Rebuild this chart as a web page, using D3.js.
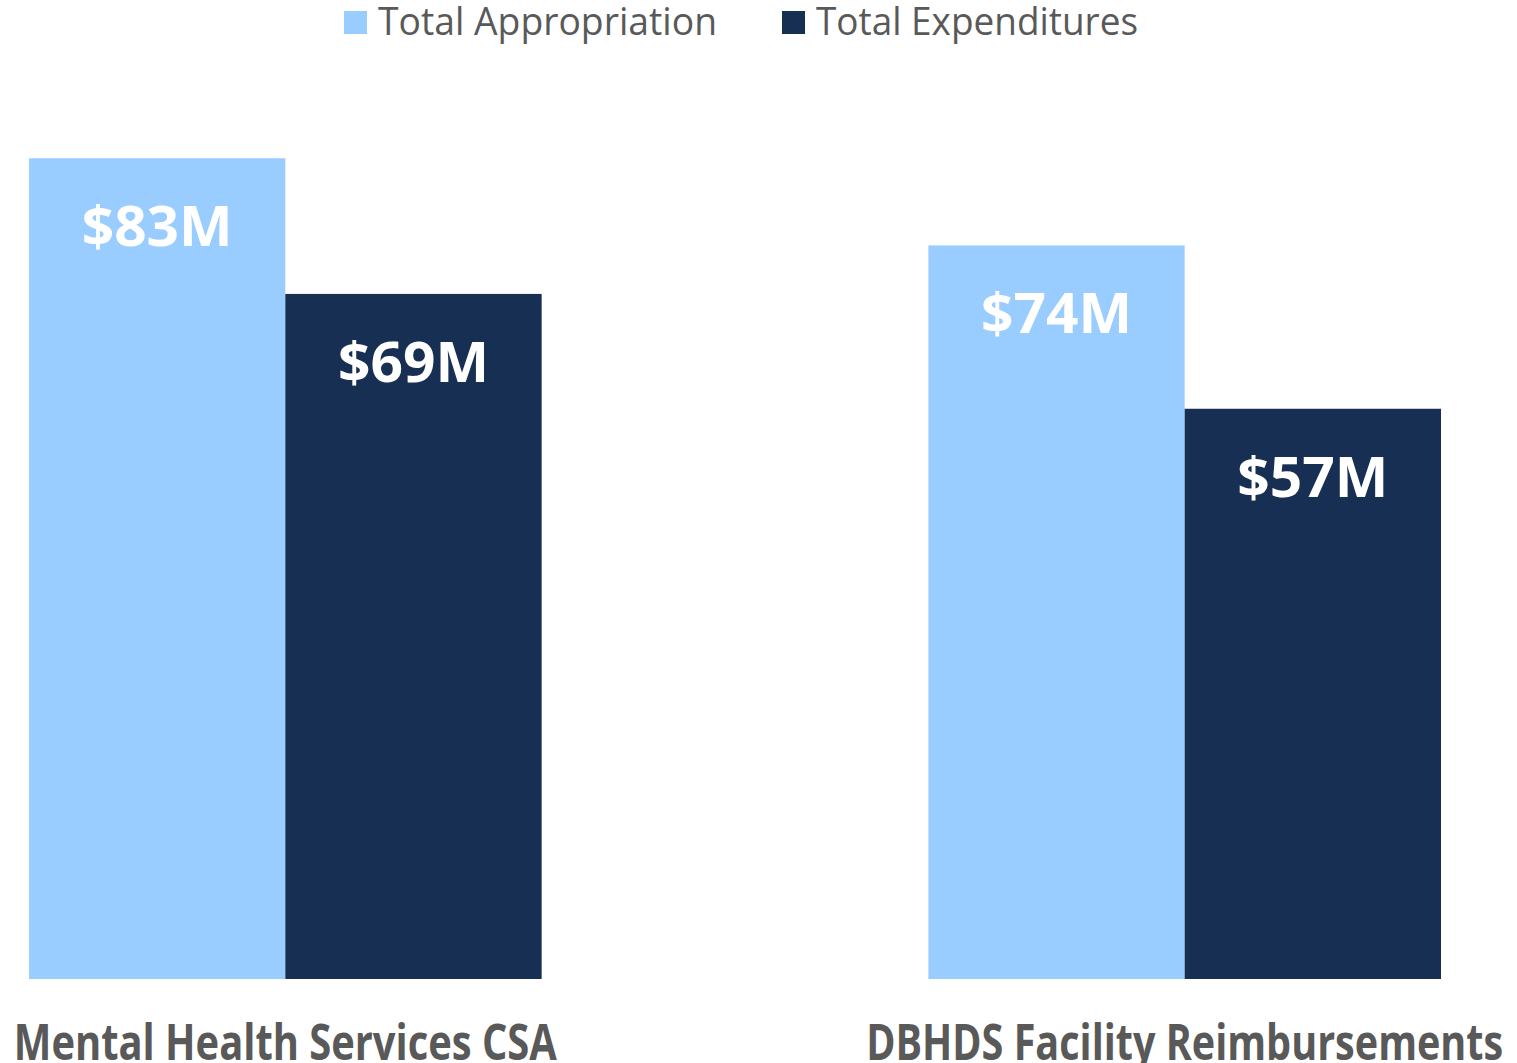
<!DOCTYPE html>
<head>
  <meta charset="UTF-8" />
  <title>Appropriation vs Expenditures</title>
  <style>
    body { margin: 0; background: #fff; }
    svg { display: block; }
  </style>
</head>
<body>
  <svg width="1517" height="1063"></svg>
</body>
<script src="https://cdn.jsdelivr.net/npm/d3@7"></script>
<script>
  // data
  const categories = ["Mental Health Services CSA", "DBHDS Facility Reimbursements"];
  const seriesNames = ["Total Appropriation", "Total Expenditures"];
  const appropriation = [82.9, 74.1];
  const expenditures = [69.2, 57.6];
  const valueLabels = [["$83M", "$69M"], ["$74M", "$57M"]];
  const colors = ["#99CCFF", "#172F53"];

  const svg = d3.select("svg");
  const font = "'Open Sans', 'DejaVu Sans', sans-serif";

  const x = d3.scaleBand().domain(categories).range([29, 1441]).paddingInner(0.43).paddingOuter(0);
  const xs = d3.scaleBand().domain(seriesNames).range([0, x.bandwidth()]);
  const y = d3.scaleLinear().domain([0, 100]).range([979, -11]);

  const rows = categories.map((c, i) => ({
    cat: c,
    vals: [appropriation[i], expenditures[i]],
    labels: valueLabels[i]
  }));

  const g = svg.selectAll("g.grp").data(rows).join("g")
    .attr("class", "grp")
    .attr("transform", d => `translate(${x(d.cat)},0)`);

  g.selectAll("rect").data(d => d.vals.map((v, j) => ({ v, s: seriesNames[j], j }))).join("rect")
    .attr("x", d => xs(d.s))
    .attr("y", d => y(d.v))
    .attr("width", xs.bandwidth())
    .attr("height", d => y(0) - y(d.v))
    .attr("fill", d => colors[d.j]);

  // value labels inside bars
  g.selectAll("text.val").data(d => d.vals.map((v, j) => ({ v, s: seriesNames[j], l: d.labels[j] }))).join("text")
    .attr("class", "val")
    .attr("x", d => xs(d.s) + xs.bandwidth() / 2)
    .attr("y", d => y(d.v) + 88)
    .attr("text-anchor", "middle")
    .attr("font-family", font)
    .attr("font-weight", "bold")
    .attr("font-size", 55)
    .attr("fill", "#fff")
    .attr("textLength", 151)
    .attr("lengthAdjust", "spacingAndGlyphs")
    .text(d => d.l);

  // category labels (run off the bottom edge as in the original)
  const catWidths = [543, 637];
  svg.selectAll("text.cat").data(categories).join("text")
    .attr("class", "cat")
    .attr("x", d => x(d) + x.bandwidth() / 2)
    .attr("y", 1060)
    .attr("text-anchor", "middle")
    .attr("font-family", font)
    .attr("font-weight", "bold")
    .attr("font-size", 50)
    .attr("fill", "#595959")
    .attr("textLength", (d, i) => catWidths[i])
    .attr("lengthAdjust", "spacingAndGlyphs")
    .text(d => d);

  // legend
  const legendX = [344, 782];
  const legendW = [339, 322];
  const lg = svg.selectAll("g.leg").data(seriesNames).join("g")
    .attr("class", "leg")
    .attr("transform", (d, i) => `translate(${legendX[i]},0)`);
  lg.append("rect")
    .attr("x", 0).attr("y", 11)
    .attr("width", 23).attr("height", 23)
    .attr("fill", (d, i) => colors[i]);
  lg.append("text")
    .attr("x", 34).attr("y", 35)
    .attr("font-family", font)
    .attr("font-size", 38)
    .attr("fill", "#595959")
    .attr("textLength", (d, i) => legendW[i])
    .attr("lengthAdjust", "spacingAndGlyphs")
    .text(d => d);
</script>
